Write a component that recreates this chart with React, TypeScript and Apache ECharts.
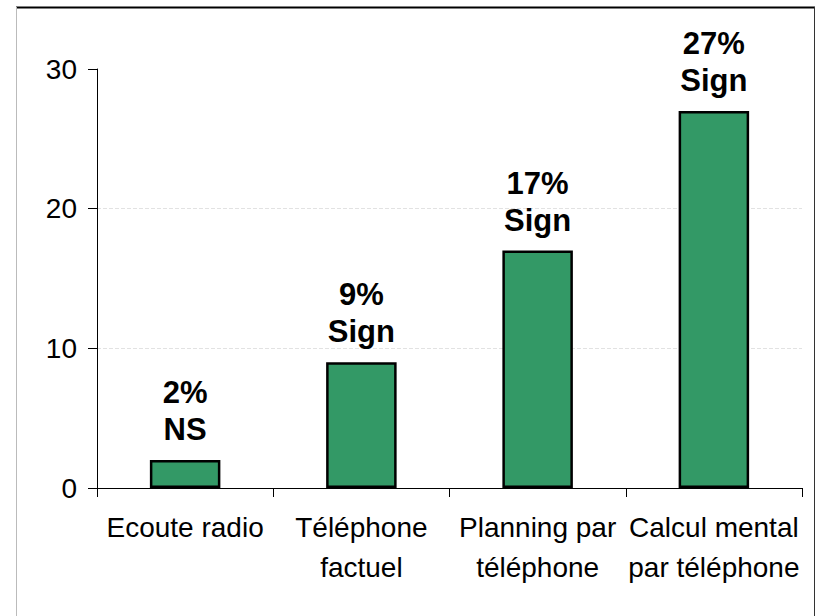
import React, { useEffect, useRef } from "react";
import * as echarts from "echarts";

const categories = ["Ecoute radio", "Téléphone\nfactuel", "Planning par\ntéléphone", "Calcul mental\npar téléphone"];
const values = [2, 9, 17, 27];
const barLabels = ["2%\nNS", "9%\nSign", "17%\nSign", "27%\nSign"];
const yTicks = [0, 10, 20, 30];

export default function App() {
  const ref = useRef<HTMLDivElement>(null);
  useEffect(() => {
    const chart = echarts.init(ref.current!, null, { renderer: "svg" });
    chart.setOption({
      animation: false,
      backgroundColor: "#fff",
      textStyle: { fontFamily: "Liberation Sans, Arial, sans-serif" },
      graphic: [
        { type: "line", shape: { x1: 16, y1: 7.5, x2: 815, y2: 7.5 }, style: { stroke: "#000", lineWidth: 2 } },
        { type: "line", shape: { x1: 16.5, y1: 7, x2: 16.5, y2: 616 }, style: { stroke: "#bbb", lineWidth: 1 } },
        { type: "line", shape: { x1: 814.5, y1: 7, x2: 814.5, y2: 616 }, style: { stroke: "#333", lineWidth: 1 } },
      ],
      grid: { left: 97, right: 19, top: 69, bottom: 128, containLabel: false },
      xAxis: {
        type: "category",
        data: categories,
        axisLine: { lineStyle: { color: "#000", width: 1 } },
        axisTick: { show: true, length: 9, lineStyle: { color: "#000" }, interval: 0 },
        axisLabel: { color: "#000", fontSize: 28, lineHeight: 40, margin: 19, interval: 0 },
      },
      yAxis: {
        type: "value",
        min: yTicks[0],
        max: yTicks[yTicks.length - 1],
        interval: 10,
        axisLine: { show: true, lineStyle: { color: "#000", width: 1 } },
        axisTick: { show: true, length: 9, lineStyle: { color: "#000" } },
        axisLabel: { color: "#000", fontSize: 28, margin: 20 },
        splitLine: { show: true, showMinLine: false, showMaxLine: false, lineStyle: { color: "#e2e2e2", width: 1, type: "dashed" } },
      },
      series: [
        {
          type: "bar",
          data: values,
          barWidth: "40%",
          itemStyle: { color: "#339966", borderColor: "#000", borderWidth: 2.5 },
          label: {
            show: true,
            position: "top",
            distance: 12,
            color: "#000",
            fontSize: 31,
            fontWeight: "bold",
            lineHeight: 37,
            formatter: (p: any) => barLabels[p.dataIndex],
          },
        },
      ],
    });
    return () => chart.dispose();
  }, []);
  return <div ref={ref} style={{ position: "absolute", left: 0, top: 0, width: 821, height: 616 }} />;
}
